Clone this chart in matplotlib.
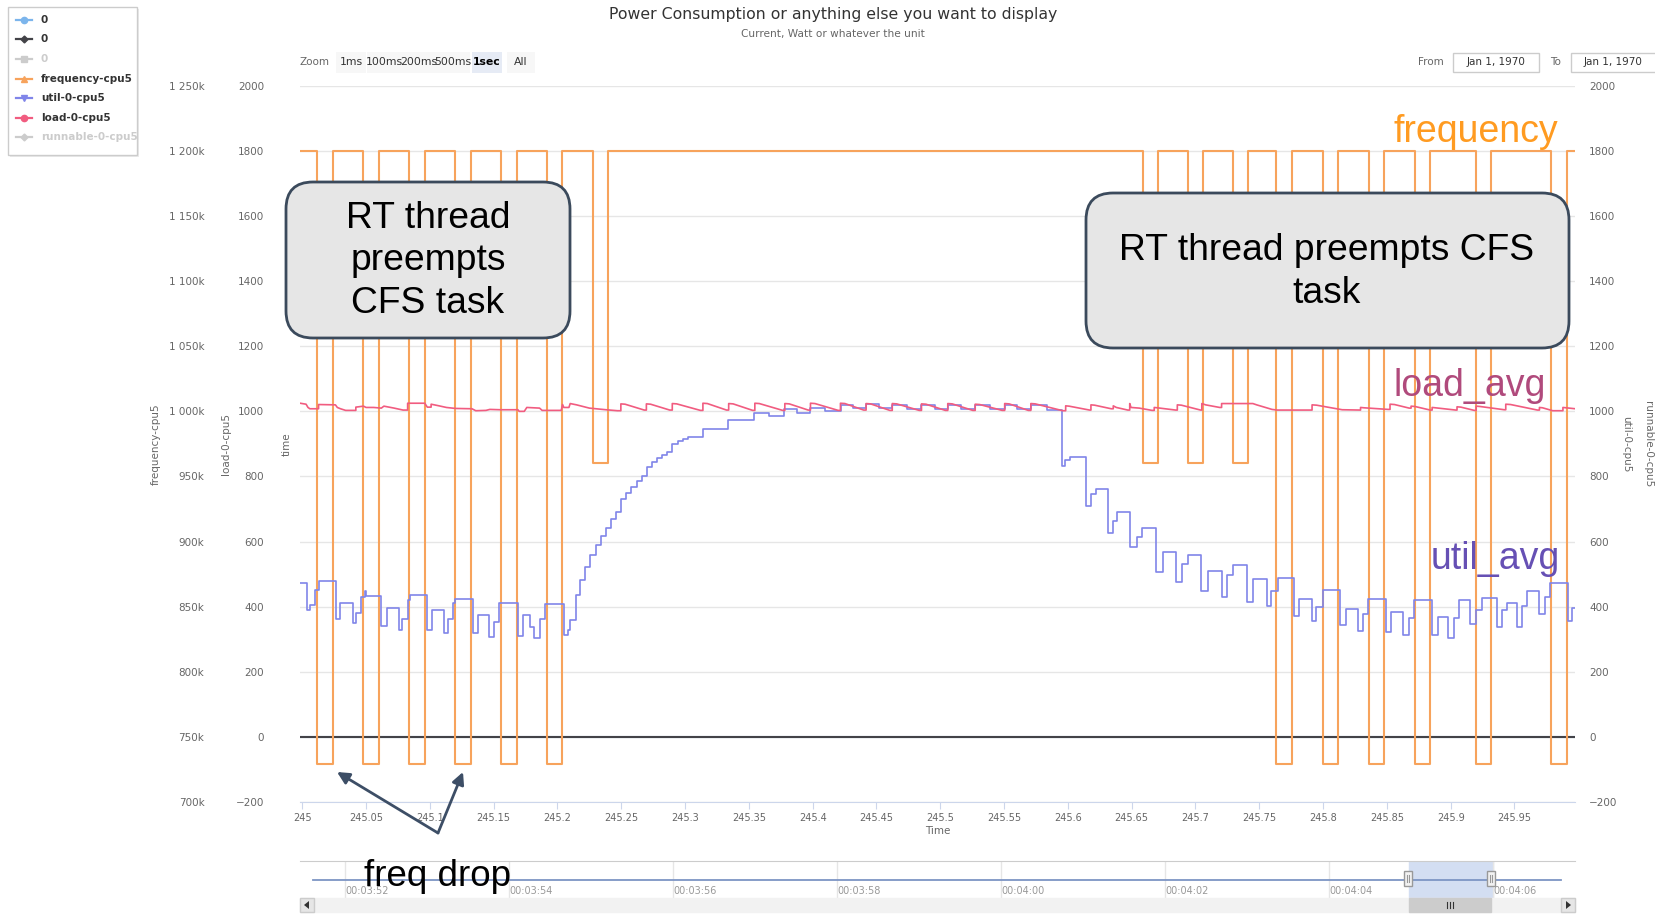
import matplotlib
matplotlib.use("Agg")
import matplotlib.pyplot as plt
from matplotlib.patches import FancyBboxPatch, Rectangle, Polygon
from matplotlib.lines import Line2D
from matplotlib.ticker import FuncFormatter

plt.rcParams['font.family'] = 'DejaVu Sans'

# ---- values ----
HI, MID, LO = 1200000, 960000, 729000
freq_t = [244.9984, 245.0118, 245.0240, 245.0477, 245.0599, 245.0839, 245.0960,
          245.1197, 245.1319, 245.1559, 245.1680, 245.1917, 245.2039, 245.2276,
          245.2398, 245.6588, 245.6703, 245.6943, 245.7058, 245.7298, 245.7414,
          245.7635, 245.7758, 245.8000, 245.8116, 245.8359, 245.8476, 245.8717,
          245.8836, 245.9197, 245.9317, 245.9785, 245.9915, 245.9977]
freq_v = [HI, LO, HI, LO, HI, LO, HI, LO, HI, LO, HI, LO, HI, MID, HI,
          MID, HI, MID, HI, MID, HI, LO, HI, LO, HI, LO, HI, LO, HI, LO, HI, LO, HI, HI]

util_t = [244.9984, 245.0038, 245.0058, 245.0102, 245.0128, 245.0262, 245.0298, 245.0400,
          245.0423, 245.0464, 245.0490, 245.0503, 245.0621, 245.0666, 245.0759, 245.0784,
          245.0826, 245.0848, 245.0976, 245.1018, 245.1114, 245.1146, 245.1184, 245.1200,
          245.1338, 245.1376, 245.1466, 245.1504, 245.1543, 245.1690, 245.1729, 245.1783,
          245.1818, 245.1863, 245.1901, 245.2049, 245.2081, 245.2100, 245.2145,
          245.2177, 245.2217, 245.2259, 245.2301, 245.2343, 245.2379, 245.2421, 245.2460,
          245.2499, 245.2541, 245.2580, 245.2622, 245.2662, 245.2701, 245.2740, 245.2779,
          245.2821, 245.2860, 245.2900, 245.2942, 245.2981, 245.3020, 245.3140, 245.3339,
          245.3541, 245.3660, 245.3779, 245.3880, 245.3980, 245.4100,
          245.4221, 245.4320, 245.4419, 245.4520, 245.4624, 245.4740, 245.4853, 245.4960,
          245.5059, 245.5160, 245.5274, 245.5390, 245.5505, 245.5600, 245.5710, 245.5840,
          245.5957, 245.5980, 245.6017, 245.6139, 245.6181, 245.6218, 245.6314, 245.6353,
          245.6386, 245.6488, 245.6545, 245.6578, 245.6693, 245.6743, 245.6845, 245.6891,
          245.6941, 245.7046, 245.7099, 245.7205, 245.7244, 245.7297, 245.7403, 245.7452,
          245.7558, 245.7594, 245.7644, 245.7776, 245.7815, 245.7914, 245.7947, 245.7997,
          245.8132, 245.8178, 245.8277, 245.8310, 245.8350, 245.8492, 245.8531, 245.8624,
          245.8673, 245.8713, 245.8851, 245.8898, 245.8977, 245.9030, 245.9069, 245.9155,
          245.9201, 245.9244, 245.9360, 245.9399, 245.9442, 245.9518, 245.9558, 245.9597,
          245.9696, 245.9736, 245.9779, 245.9917, 245.9954, 245.9977]
util_v = [473, 388, 406, 452, 480, 361, 411, 350,
          380, 429, 449, 431, 339, 395, 329, 361,
          419, 436, 329, 388, 318, 361, 410, 424,
          319, 374, 306, 352, 410, 310, 373, 337,
          304, 361, 408, 314, 329, 359, 436,
          481, 522, 560, 589, 617, 643, 668, 691,
          730, 750, 768, 787, 801, 830, 845, 857,
          866, 874, 900, 908, 914, 922, 946, 973,
          994, 987, 1006, 996, 1011, 1002,
          1020, 1010, 1022, 1010, 1021, 1008, 1020, 1008,
          1021, 1008, 1020, 1006, 1021, 1008, 1020, 1004,
          831, 849, 861, 709, 746, 762, 625, 664,
          690, 582, 613, 643, 506, 567, 477, 531,
          557, 447, 509, 428, 498, 528, 415, 484,
          401, 449, 487, 370, 423, 357, 398, 452,
          342, 392, 326, 378, 424, 323, 384, 314,
          365, 419, 314, 368, 304, 365, 419, 347,
          388, 427, 337, 390, 410, 337, 402, 447,
          378, 429, 473, 357, 395, 395]

load_t = [244.9984, 245.0030, 245.0045, 245.0060, 245.0128, 245.0128, 245.0260, 245.0275,
          245.0300, 245.0340, 245.0420, 245.0420, 245.0480, 245.0500, 245.0560, 245.0620,
          245.0640, 245.0720, 245.0790, 245.0826, 245.0826, 245.0960, 245.0980, 245.1010,
          245.1010, 245.1060, 245.1130, 245.1200, 245.1330, 245.1360, 245.1440, 245.1470,
          245.1550, 245.1690, 245.1700, 245.1740, 245.1760, 245.1860, 245.1880, 245.2030,
          245.2040, 245.2050, 245.2090, 245.2100, 245.2150, 245.2250, 245.2380, 245.2470,
          245.2497, 245.2497, 245.2530, 245.2680, 245.2697, 245.2697, 245.2730, 245.2880,
          245.2900, 245.2900, 245.2935, 245.3120, 245.3140, 245.3140, 245.3175, 245.3325,
          245.3342, 245.3342, 245.3377, 245.3530, 245.3547, 245.3547, 245.3582, 245.3765,
          245.3782, 245.3782, 245.3817, 245.3965, 245.3983, 245.3983, 245.4018, 245.4200,
          245.4218, 245.4218, 245.4253, 245.4400, 245.4419, 245.4419, 245.4454, 245.4605,
          245.4624, 245.4624, 245.4659, 245.4835, 245.4853, 245.4853, 245.4888, 245.5040,
          245.5059, 245.5059, 245.5094, 245.5255, 245.5274, 245.5274, 245.5309, 245.5485,
          245.5505, 245.5505, 245.5540, 245.5690, 245.5710, 245.5710, 245.5745, 245.5960,
          245.5983, 245.5983, 245.6010, 245.6170, 245.6181, 245.6181, 245.6210, 245.6340,
          245.6356, 245.6356, 245.6380, 245.6470, 245.6485, 245.6485, 245.6495, 245.6560,
          245.6660, 245.6677, 245.6677, 245.6700, 245.6845, 245.6858, 245.6858, 245.6890,
          245.7040, 245.7050, 245.7050, 245.7080, 245.7190, 245.7205, 245.7205, 245.7450,
          245.7480, 245.7600, 245.7640, 245.7900, 245.7914, 245.7914, 245.7950, 245.8050,
          245.8150, 245.8280, 245.8294, 245.8294, 245.8320, 245.8510, 245.8525, 245.8525,
          245.8560, 245.8675, 245.8690, 245.8690, 245.8720, 245.8840, 245.8855, 245.8855,
          245.8880, 245.9040, 245.9050, 245.9050, 245.9080, 245.9185, 245.9200, 245.9200,
          245.9230, 245.9420, 245.9432, 245.9432, 245.9470, 245.9680, 245.9696, 245.9696,
          245.9720, 245.9800, 245.9870, 245.9880, 245.9880, 245.9977]
load_v = [1025, 1022, 1012, 1008, 1008, 1021, 1020, 1012,
          1008, 1003, 1003, 1013, 1016, 1012, 1012, 1010,
          1016, 1010, 1004, 1004, 1025, 1025, 1013, 1013,
          1022, 1018, 1012, 1009, 1008, 1002, 1003, 1006,
          1005, 1005, 1000, 1000, 1012, 1010, 1003, 1003,
          1021, 1012, 1012, 1024, 1020, 1010, 1005, 1002,
          1002, 1023, 1022, 1004, 1004, 1023, 1022, 1004,
          1004, 1024, 1023, 1003, 1003, 1025, 1024, 1004,
          1004, 1024, 1023, 1003, 1003, 1025, 1024, 1003,
          1003, 1024, 1023, 1004, 1004, 1025, 1024, 1003,
          1003, 1025, 1024, 1004, 1004, 1024, 1023, 1003,
          1003, 1024, 1023, 1003, 1003, 1023, 1022, 1003,
          1003, 1024, 1023, 1003, 1003, 1022, 1021, 1003,
          1003, 1024, 1023, 1003, 1003, 1024, 1023, 1002,
          1002, 1017, 1016, 1004, 1004, 1020, 1019, 1008,
          1008, 1017, 1012, 1004, 1004, 1024, 1012, 1010,
          1003, 1003, 1012, 1011, 1004, 1004, 1020, 1019,
          1004, 1004, 1024, 1020, 1012, 1012, 1024, 1024,
          1020, 1006, 1004, 1004, 1004, 1020, 1019, 1012,
          1005, 1004, 1004, 1012, 1011, 1006, 1006, 1022,
          1021, 1010, 1010, 1016, 1015, 1004, 1004, 1012,
          1011, 1004, 1004, 1014, 1013, 1003, 1003, 1016,
          1015, 1005, 1005, 1022, 1021, 1004, 1004, 1012,
          1011, 1002, 1002, 1002, 1012, 1008]

zero_t = [244.9984, 245.9977]
zero_v = [0, 0]

x_ticks = [245 + 0.05 * i for i in range(20)]
load_ticks = list(range(-200, 2001, 200))
freq_ticks = list(range(700000, 1250001, 50000))

nav_t = [231.61, 246.83]
nav_v = [0, 0]
nav_ticks = [232, 234, 236, 238, 240, 242, 244, 246]
nav_sel = (244.98, 246.0)

legend_names = ['0', '0', '0', 'frequency-cpu5', 'util-0-cpu5', 'load-0-cpu5', 'runnable-0-cpu5']
legend_colors = ['#7cb5ec', '#434348', '#cccccc', '#f7a35c', '#8085e9', '#f15c80', '#cccccc']
legend_markers = ['o', 'D', 's', '^', 'v', 'o', 'D']
legend_on = [True, True, False, True, True, True, False]

zoom_buttons = ['1ms', '100ms', '200ms', '500ms', '1sec', 'All']

# ---- figure ----
W, H = 1656, 914
fig = plt.figure(figsize=(W / 100, H / 100), dpi=100)


def frac(x0, y0, x1, y1):
    return [x0 / W, 1 - y1 / H, (x1 - x0) / W, (y1 - y0) / H]


GRAY = '#666666'
ax = fig.add_axes(frac(300.2, 86, 1575.3, 801.8))
ax.set_xlim(zero_t[0], zero_t[-1])
ax.set_ylim(-200, 2000)
ax.set_yticks(load_ticks)
ax.yaxis.grid(True, color='#e6e6e6', lw=1)
ax.set_axisbelow(True)
for s in ['left', 'right', 'top']:
    ax.spines[s].set_visible(False)
ax.spines['bottom'].set_color('#ccd6eb')
ax.tick_params(axis='y', length=0, pad=26, labelsize=7.5, labelcolor=GRAY)
ax.set_xticks(x_ticks)
ax.xaxis.set_major_formatter(FuncFormatter(lambda v, p: '{:g}'.format(round(v, 2))))
ax.tick_params(axis='x', direction='out', length=5, color='#ccd6eb', labelsize=7,
               labelcolor=GRAY, pad=3)
ax.set_xlabel('Time', color=GRAY, fontsize=7.5, va='center')
ax.xaxis.set_label_coords(0.5, -(831 - 801.8) / 715.8)
ax.set_ylabel('load-0-cpu5', color=GRAY, fontsize=7.5, va='center')
ax.yaxis.set_label_coords(-0.0582, 0.5)
ax.text(-0.0104, 0.5, 'time', transform=ax.transAxes, rotation=90, ha='center',
        va='center', color=GRAY, fontsize=7.5)

ax.plot(zero_t, zero_v, color='#7cb5ec', lw=1.5)
ax.plot(zero_t, zero_v, color='#434348', lw=1.5)

ax_f = ax.twinx()
ax_f.set_ylim(700000, 1250000)
ax_f.set_yticks(freq_ticks)
ax_f.yaxis.set_major_formatter(FuncFormatter(lambda v, p: '{:,.0f}k'.format(v / 1000).replace(',', ' ')))
ax_f.yaxis.tick_left()
ax_f.tick_params(axis='y', length=0, pad=69, labelsize=7.5, labelcolor=GRAY)
ax_f.yaxis.set_label_position('left')
ax_f.set_ylabel('frequency-cpu5', color=GRAY, fontsize=7.5, va='center')
ax_f.yaxis.set_label_coords(-0.1131, 0.5)
ax_f.step(freq_t, freq_v, where='post', color='#f7a35c', lw=1.5)

ax_u = ax.twinx()
ax_u.set_ylim(-200, 2000)
ax_u.set_yticks(load_ticks)
ax_u.tick_params(axis='y', length=0, pad=10, labelsize=7.5, labelcolor=GRAY)
ax_u.set_ylabel('util-0-cpu5', color=GRAY, fontsize=7.5, rotation=270, va='center')
ax_u.yaxis.set_label_coords(1.0398, 0.5)
ax_u.text(1.057, 0.5, 'runnable-0-cpu5', transform=ax_u.transAxes, rotation=270,
          ha='center', va='center', color=GRAY, fontsize=7.5)
ax_u.step(util_t, util_v, where='post', color='#8085e9', lw=1.2)

ax_l = ax.twinx()
ax_l.set_ylim(-200, 2000)
ax_l.set_yticks([])
ax_l.plot(load_t, load_v, color='#f15c80', lw=1.2)

for a in (ax_f, ax_u, ax_l):
    for s in a.spines.values():
        s.set_visible(False)

# ---- navigator ----
nav = fig.add_axes(frac(300, 861, 1575, 898))
nav.set_xlim(231.451, 247.0)
nav.set_ylim(-1, 1)
nav.set_yticks([])
for s in ['left', 'right', 'bottom']:
    nav.spines[s].set_visible(False)
nav.spines['top'].set_color('#cccccc')
nav.set_xticks(nav_ticks)
nav.set_xticklabels(['00:{:02d}:{:02d}'.format(t // 60, t % 60) for t in nav_ticks])
nav.tick_params(axis='x', length=0, pad=-9, labelsize=7, labelcolor='#999999')
for lab in nav.get_xticklabels():
    lab.set_ha('left')
nav.xaxis.grid(True, color='#e6e6e6', lw=1)
nav.axvspan(nav_sel[0], nav_sel[1], color='#d3def2', zorder=0)
nav.plot(nav_t, nav_v, color='#7d95c4', lw=1.3)

# ---- overlay in pixel coordinates ----
ov = fig.add_axes([0, 0, 1, 1])
ov.set_xlim(0, W)
ov.set_ylim(H, 0)
ov.axis('off')

fig.text(833 / W, 1 - 15 / H, 'Power Consumption or anything else you want to display',
         ha='center', va='center', fontsize=11.3, color='#333333')
fig.text(833 / W, 1 - 34 / H, 'Current, Watt or whatever the unit',
         ha='center', va='center', fontsize=7.6, color=GRAY)

# legend
ov.add_patch(Rectangle((10, 9), 129, 148, fc='#000000', alpha=0.08, ec='none'))
leg_box = Rectangle((8, 7), 129, 148, fc='white', ec='#cccccc', lw=1)
ov.add_patch(leg_box)
leg_y = [20, 39, 59, 79, 98, 118, 137]
for name, c, m, on, y in zip(legend_names, legend_colors, legend_markers, legend_on, leg_y):
    ov.add_line(Line2D([16, 32], [y, y], color=c, lw=1.6))
    ov.plot([24], [y], marker=m, color=c, markersize=4.5 if m != 'D' else 3.5, mec=c)
    t = ov.text(41, y, name, ha='left', va='center', fontsize=7.5, fontweight='bold',
                color='#333333' if on else '#cccccc')
    t.set_clip_path(leg_box)

# zoom buttons
ov.text(300, 62, 'Zoom', ha='left', va='center', fontsize=7.5, color=GRAY)
btn_x = [(336, 366), (367, 402), (402, 435), (435, 470), (472, 502), (507, 535)]
for lab, (x0, x1) in zip(zoom_buttons, btn_x):
    sel = lab == '1sec'
    ov.add_patch(Rectangle((x0, 52), x1 - x0, 21, fc='#e6ebf5' if sel else '#f7f7f7', ec='none'))
    ov.text((x0 + x1) / 2, 62, lab, ha='center', va='center', fontsize=7.8,
            color='#000000' if sel else '#333333', fontweight='bold' if sel else 'normal')

# date range inputs
ov.text(1418, 62, 'From', ha='left', va='center', fontsize=7.5, color=GRAY)
ov.add_patch(Rectangle((1453, 53), 86, 19, fc='white', ec='#cccccc', lw=1))
ov.text(1496, 62, 'Jan 1, 1970', ha='center', va='center', fontsize=7.5, color='#333333')
ov.text(1550, 62, 'To', ha='left', va='center', fontsize=7.5, color=GRAY)
ov.add_patch(Rectangle((1571, 53), 90, 19, fc='white', ec='#cccccc', lw=1))
ov.text(1613, 62, 'Jan 1, 1970', ha='center', va='center', fontsize=7.5, color='#333333')

# annotation boxes
BOX_EC = '#3b4a5c'
ov.add_patch(FancyBboxPatch((286, 182), 284, 156, boxstyle='round,pad=0,rounding_size=27',
                            fc='#e6e6e6', ec=BOX_EC, lw=2))
ov.text(428, 261, 'RT thread\npreempts\nCFS task', ha='center', va='center',
        fontsize=26.8, family='Liberation Sans', linespacing=1.27)
ov.add_patch(FancyBboxPatch((1086, 193), 483, 155, boxstyle='round,pad=0,rounding_size=27',
                            fc='#e6e6e6', ec=BOX_EC, lw=2))
ov.text(1327, 272, 'RT thread preempts CFS\ntask', ha='center', va='center',
        fontsize=26.8, family='Liberation Sans', linespacing=1.27)

# series call-outs
ov.text(1394, 142, 'frequency', ha='left', va='baseline', fontsize=27,
        family='Liberation Sans', color='#ff9b21')
ov.text(1394, 396, 'load_avg', ha='left', va='baseline', fontsize=27,
        family='Liberation Sans', color='#b04a7c')
ov.text(1431, 569, 'util_avg', ha='left', va='baseline', fontsize=27,
        family='Liberation Sans', color='#6650b4')

# freq drop arrows
ARROW = '#3d4e66'
for tip in [(337, 772), (463, 772)]:
    ov.annotate('', xy=tip, xytext=(438, 833),
                arrowprops=dict(arrowstyle='-|>', color=ARROW, lw=2, mutation_scale=18,
                                shrinkA=0, shrinkB=0))
ov.text(364, 886, 'freq drop', ha='left', va='baseline', fontsize=26.5,
        family='Liberation Sans', color='black')

# navigator handles
for hx in (1404, 1487):
    ov.add_patch(Rectangle((hx, 871), 8, 15, fc='#f2f2f2', ec='#999999', lw=1))
    ov.add_line(Line2D([hx + 3, hx + 3], [875, 882], color='#999999', lw=0.8))
    ov.add_line(Line2D([hx + 5, hx + 5], [875, 882], color='#999999', lw=0.8))

# scrollbar
ov.add_patch(Rectangle((300, 898), 1275, 14, fc='#f2f2f2', ec='#f2f2f2', lw=1))
ov.add_patch(Rectangle((1409, 898), 82, 14, fc='#cccccc', ec='#cccccc', lw=1))
for gx in (1447, 1450, 1453):
    ov.add_line(Line2D([gx, gx], [902, 908], color='#333333', lw=0.8))
for bx, pts in [(300, [(309, 901), (309, 909), (304, 905)]),
                (1561, [(1566, 901), (1566, 909), (1571, 905)])]:
    ov.add_patch(Rectangle((bx, 898), 14, 14, fc='#e6e6e6', ec='#cccccc', lw=1))
    ov.add_patch(Polygon(pts, closed=True, fc='#333333', ec='none'))

fig.savefig('out.png', dpi=100)
